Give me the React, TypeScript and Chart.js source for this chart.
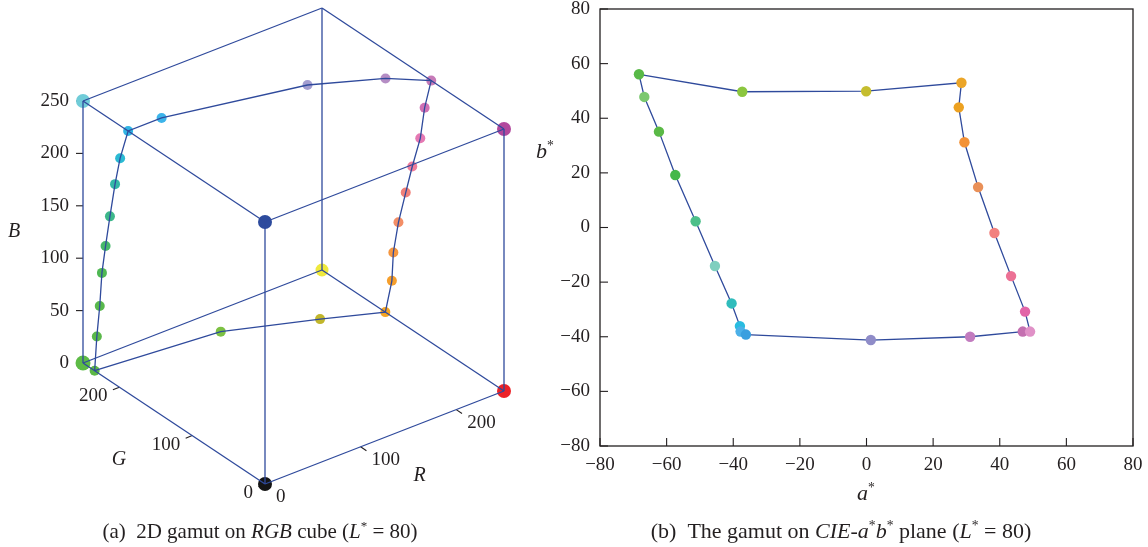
import React, { useEffect, useRef } from "react";
import { Chart, registerables } from "chart.js";
Chart.register(...registerables);

// ---------------- Panel (a): RGB cube ----------------
const CUBE_MAX = 250;
// corners: K, R, G, B, Y, M, C, W
const CORNER_R = [0, 250, 0, 0, 250, 250, 0, 250];
const CORNER_G = [0, 0, 250, 0, 250, 0, 250, 250];
const CORNER_B = [0, 0, 0, 250, 0, 250, 250, 250];
const CORNER_COLORS = ["#141414", "#ec2227", "#5dbb46", "#2d4b9d", "#efe93d", "#b2489d", "#70ccd8", "rgba(0,0,0,0)"];
const CORNER_SIZES = [7, 7, 7.5, 7, 6.5, 7, 7, 0];
const CUBE_EDGES = [[0, 1], [0, 2], [0, 3], [1, 4], [1, 5], [2, 4], [2, 6], [3, 5], [3, 6], [4, 7], [5, 7], [6, 7]];

// gamut boundary (L* = 80) in RGB
const GAMUT_R = [0, 0, 0, 0, 0, 0, 0, 0, 0, 35, 164, 222, 250, 250, 250, 250, 250, 250, 250, 250, 250, 200, 122];
const GAMUT_G = [234, 231, 227, 224, 219, 213, 206, 199, 188, 188, 157, 126, 100, 109, 115, 126, 135, 145, 152, 154, 163, 187, 221];
const GAMUT_B = [0, 34, 65, 98, 126, 157, 191, 219, 250, 250, 250, 250, 250, 220, 188, 156, 127, 94, 62, 34, 0, 0, 0];
const GAMUT_COLORS = [
  "#5cb846", "#5ab84a", "#58b84c", "#4fb853", "#45b86a", "#3db78a", "#33b8a6", "#2bbad3",
  "#30b4e4", "#3cb4ea", "#a39dd0", "#b58dc4", "#c67ab8", "#cf70b4", "#e579b3", "#ef7d9b",
  "#f08079", "#f38e66", "#f5963f", "#f69f2c", "#f5a524", "#c1b62b", "#7cc143",
];

const B_TICKS = [0, 50, 100, 150, 200, 250];
const G_TICKS = [0, 100, 200];
const R_TICKS = [0, 100, 200];

// ---------------- Panel (b): CIE a*b* plane ----------------
const A_STAR = [-68.3, -66.7, -62.3, -57.4, -51.3, -45.5, -40.5, -38.0, -37.8, -36.2, 1.3, 31.1, 46.9, 49.1, 47.6, 43.4, 38.4, 33.5, 29.4, 27.7, 28.5, -0.1, -37.3];
const B_STAR = [56.1, 47.8, 35.1, 19.2, 2.3, -14.1, -27.8, -36.1, -38.1, -39.2, -41.2, -40.0, -38.1, -38.1, -30.8, -17.8, -2.0, 14.8, 31.2, 44.0, 53.0, 49.9, 49.7];
const LAB_COLORS = [
  "#58b947", "#7bc870", "#5ab946", "#45b84a", "#4cbf8a", "#7fcfbf", "#30bcbc", "#29bce0",
  "#4cb0e8", "#3a9fdf", "#8f8cc8", "#c27cbf", "#c46fb0", "#e091c7", "#e265a8", "#ec7195",
  "#f2817f", "#e99058", "#f39237", "#eca121", "#eba528", "#c5bd2f", "#8bc63f",
];
const AB_TICKS = [-80, -60, -40, -20, 0, 20, 40, 60, 80];

const LINE_COLOR = "#2f4a9c";
const TEXT_COLOR = "#231f20";
const SERIF = "'Liberation Serif', 'DejaVu Serif', serif";

// oblique view of the cube (screen units per full cube edge)
function project(r: number, g: number, b: number) {
  return {
    x: (r * 239 - g * 182) / CUBE_MAX,
    y: (r * 93 + g * 121 + b * 262) / CUBE_MAX,
  };
}

const cubeAxesPlugin = {
  id: "cubeAxes",
  beforeDatasetsDraw(chart: any) {
    const { ctx } = chart;
    const sx = chart.scales.x, sy = chart.scales.y;
    const toPx = (r: number, g: number, b: number) => {
      const p = project(r, g, b);
      return [sx.getPixelForValue(p.x), sy.getPixelForValue(p.y)];
    };
    ctx.save();
    ctx.strokeStyle = TEXT_COLOR;
    ctx.lineWidth = 1.1;
    const seg = (x0: number, y0: number, x1: number, y1: number) => {
      ctx.beginPath(); ctx.moveTo(x0, y0); ctx.lineTo(x1, y1); ctx.stroke();
    };
    B_TICKS.forEach((t) => { const [px, py] = toPx(0, CUBE_MAX, t); seg(px, py, px - 7, py); });
    G_TICKS.forEach((t) => { const [px, py] = toPx(0, t, 0); seg(px, py, px - 0.932 * 7, py + 0.363 * 7); });
    R_TICKS.forEach((t) => { const [px, py] = toPx(t, 0, 0); seg(px, py, px + 0.833 * 7, py + 0.554 * 7); });
    ctx.restore();
  },
  afterDraw(chart: any) {
    const { ctx } = chart;
    const sx = chart.scales.x, sy = chart.scales.y;
    const toPx = (r: number, g: number, b: number) => {
      const p = project(r, g, b);
      return [sx.getPixelForValue(p.x), sy.getPixelForValue(p.y)];
    };
    ctx.save();
    ctx.fillStyle = TEXT_COLOR;
    ctx.font = `19px ${SERIF}`;
    ctx.textBaseline = "middle";
    ctx.textAlign = "right";
    B_TICKS.forEach((t) => { const [px, py] = toPx(0, CUBE_MAX, t); ctx.fillText(String(t), px - 14, py); });
    G_TICKS.forEach((t) => { const [px, py] = toPx(0, t, 0); ctx.fillText(String(t), px - 12, py + 9); });
    ctx.textAlign = "left";
    R_TICKS.forEach((t) => { const [px, py] = toPx(t, 0, 0); ctx.fillText(String(t), px + 11, py + 13); });
    ctx.font = `italic 20px ${SERIF}`;
    ctx.textAlign = "center";
    {
      const [px, py] = toPx(0, CUBE_MAX, CUBE_MAX / 2); ctx.fillText("B", px - 69, py);
    }
    {
      const [px, py] = toPx(0, CUBE_MAX / 2, 0); ctx.fillText("G", px - 55, py + 36);
    }
    {
      const [px, py] = toPx(CUBE_MAX / 2, 0, 0); ctx.fillText("R", px + 35, py + 38);
    }
    ctx.restore();
  },
};

const boxPlugin = {
  id: "boxTicks",
  afterDraw(chart: any) {
    const { ctx, chartArea: ca } = chart;
    const sx = chart.scales.x, sy = chart.scales.y;
    ctx.save();
    ctx.strokeStyle = TEXT_COLOR;
    ctx.lineWidth = 1.3;
    ctx.strokeRect(ca.left, ca.top, ca.right - ca.left, ca.bottom - ca.top);
    ctx.lineWidth = 1.1;
    AB_TICKS.forEach((v) => {
      const px = sx.getPixelForValue(v);
      ctx.beginPath(); ctx.moveTo(px, ca.bottom); ctx.lineTo(px, ca.bottom - 8); ctx.stroke();
      const py = sy.getPixelForValue(v);
      ctx.beginPath(); ctx.moveTo(ca.left, py); ctx.lineTo(ca.left + 8, py); ctx.stroke();
    });
    ctx.restore();
  },
};

function CubeChart() {
  const ref = useRef<HTMLCanvasElement>(null);
  useEffect(() => {
    const corner = (i: number) => project(CORNER_R[i], CORNER_G[i], CORNER_B[i]);
    const gamut = GAMUT_R.map((r, i) => project(r, GAMUT_G[i], GAMUT_B[i]));
    const datasets: any[] = [];
    CUBE_EDGES.forEach(([a, b]) => {
      datasets.push({
        data: [corner(a), corner(b)], showLine: true, borderColor: LINE_COLOR, borderWidth: 1.3,
        pointRadius: 0, order: 2,
      });
    });
    datasets.push({
      data: [...gamut, gamut[0]], showLine: true, borderColor: LINE_COLOR, borderWidth: 1.3,
      pointRadius: 0, order: 1,
    });
    datasets.push({
      data: gamut, showLine: false, pointRadius: 5, pointBorderWidth: 0,
      pointBackgroundColor: GAMUT_COLORS, order: 4,
    });
    datasets.push({
      data: CORNER_R.map((_, i) => corner(i)), showLine: false, pointRadius: CORNER_SIZES, pointBorderWidth: 0,
      pointBackgroundColor: CORNER_COLORS, order: 5,
    });
    const chart = new Chart(ref.current!, {
      type: "scatter",
      data: { datasets },
      options: {
        animation: false, responsive: false, events: [],
        layout: { padding: 0, autoPadding: false },
        plugins: { legend: { display: false }, tooltip: { enabled: false } },
        scales: {
          x: { type: "linear", display: false, min: -265, max: 295 },
          y: { type: "linear", display: false, min: -63, max: 484 },
        },
      },
      plugins: [cubeAxesPlugin],
    });
    return () => chart.destroy();
  }, []);
  return <canvas ref={ref} width={560} height={547} style={{ position: "absolute", left: 0, top: 0 }} />;
}

function LabChart() {
  const ref = useRef<HTMLCanvasElement>(null);
  useEffect(() => {
    const pts = A_STAR.map((a, i) => ({ x: a, y: B_STAR[i] }));
    const tickFont = { family: SERIF, size: 19, lineHeight: 1 };
    const fmt = (v: any) => String(v).replace("-", "\u2212");
    const chart = new Chart(ref.current!, {
      type: "scatter",
      data: {
        datasets: [
          { data: pts, showLine: false, pointRadius: 5.2, pointBorderWidth: 0, pointBackgroundColor: LAB_COLORS, order: 1 },
          { data: [...pts, pts[0]], showLine: true, borderColor: LINE_COLOR, borderWidth: 1.3, pointRadius: 0, order: 2 },
        ],
      },
      options: {
        animation: false, responsive: false, events: [],
        layout: { padding: { left: 0, right: 15, top: 9, bottom: 0 }, autoPadding: false },
        plugins: { legend: { display: false }, tooltip: { enabled: false } },
        scales: {
          x: {
            type: "linear", min: -80, max: 80,
            grid: { display: false, drawTicks: false }, border: { display: false },
            ticks: { stepSize: 20, padding: 10, color: TEXT_COLOR, font: tickFont, callback: fmt, autoSkip: false, maxRotation: 0 },
            afterFit: (s: any) => { s.height = 101; s.paddingLeft = 0; s.paddingRight = 0; },
          },
          y: {
            type: "linear", min: -80, max: 80,
            grid: { display: false, drawTicks: false }, border: { display: false },
            ticks: { stepSize: 20, padding: 10, color: TEXT_COLOR, font: tickFont, callback: fmt, autoSkip: false },
            afterFit: (s: any) => { s.width = 60; s.paddingTop = 0; s.paddingBottom = 0; },
          },
        },
      },
      plugins: [boxPlugin],
    });
    return () => chart.destroy();
  }, []);
  return <canvas ref={ref} width={608} height={547} style={{ position: "absolute", left: 540, top: 0 }} />;
}

const sup = { fontSize: "0.62em", verticalAlign: "0.6em", fontStyle: "normal" as const };

export default function App() {
  return (
    <div style={{ position: "fixed", left: 0, top: 0, width: 1148, height: 547, background: "#fff", fontFamily: SERIF, color: TEXT_COLOR, overflow: "hidden" }}>
      <CubeChart />
      <LabChart />
      <div style={{ position: "absolute", left: 536, top: 134, fontSize: 22, fontStyle: "italic", lineHeight: "24px" }}>
        b<span style={sup}>*</span>
      </div>
      <div style={{ position: "absolute", left: 866, top: 476, transform: "translateX(-50%)", fontSize: 22, fontStyle: "italic", lineHeight: "24px" }}>
        a<span style={sup}>*</span>
      </div>
      <div style={{ position: "absolute", left: 260, top: 514, transform: "translateX(-50%)", fontSize: 21, whiteSpace: "nowrap", lineHeight: "24px" }}>
        (a)&nbsp;&nbsp;2D gamut on <i>RGB</i> cube (<i>L</i><span style={sup}>*</span> = 80)
      </div>
      <div style={{ position: "absolute", left: 841, top: 514, transform: "translateX(-50%)", fontSize: 22, whiteSpace: "nowrap", lineHeight: "24px" }}>
        (b)&nbsp;&nbsp;The gamut on <i>CIE-a</i><span style={sup}>*</span><i>b</i><span style={sup}>*</span> plane (<i>L</i><span style={sup}>*</span> = 80)
      </div>
    </div>
  );
}
